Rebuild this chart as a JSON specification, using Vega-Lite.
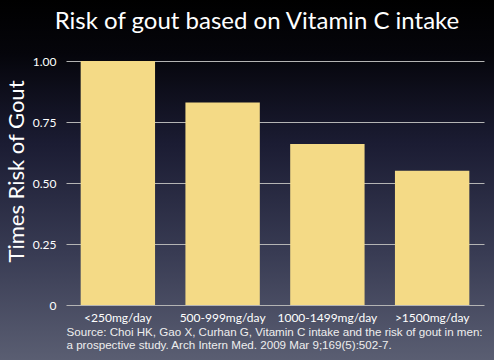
{
  "$schema": "https://vega.github.io/schema/vega-lite/v6.json",
  "width": 494,
  "height": 360,
  "autosize": "none",
  "padding": 0,
  "background": "#000000",
  "view": {
    "stroke": null,
    "fill": {
      "gradient": "linear",
      "x1": 0, "y1": 0, "x2": 0, "y2": 1,
      "stops": [
        {"offset": 0, "color": "#000000"},
        {"offset": 0.15, "color": "#05050b"},
        {"offset": 0.4, "color": "#1b1c33"},
        {"offset": 0.7, "color": "#383b53"},
        {"offset": 1, "color": "#5a5e72"}
      ]
    }
  },
  "title": {
    "text": "Risk of gout based on Vitamin C intake",
    "font": "Lato",
    "fontSize": 24,
    "fontWeight": "normal",
    "color": "#ffffff",
    "anchor": "middle",
    "frame": "group",
    "offset": -34,
    "dx": 10
  },
  "data": {
    "values": [
      {"intake": "<250mg/day", "risk": 1.0},
      {"intake": "500-999mg/day", "risk": 0.83},
      {"intake": "1000-1499mg/day", "risk": 0.66},
      {"intake": ">1500mg/day", "risk": 0.55}
    ]
  },
  "mark": {"type": "bar", "color": "#f4da86"},
  "encoding": {
    "x": {
      "field": "intake",
      "type": "nominal",
      "sort": null,
      "scale": {"range": [66, 484], "paddingInner": 0.29, "paddingOuter": 0.14},
      "axis": {
        "offset": -55,
        "domain": false,
        "ticks": false,
        "labelAngle": 0,
        "labelColor": "#ffffff",
        "labelFont": "Lato",
        "labelFontSize": 12,
        "labelPadding": 7,
        "title": [
          "Source: Choi HK, Gao X, Curhan G, Vitamin C intake and the risk of gout in men:",
          "a prospective study. Arch Intern Med. 2009 Mar 9;169(5):502-7."
        ],
        "titleFont": "Liberation Sans",
        "titleFontSize": 11.6,
        "titleFontWeight": "normal",
        "titleColor": "#eeeeee",
        "titleAnchor": "start",
        "titleAlign": "left",
        "titleLineHeight": 13,
        "titlePadding": 3
      }
    },
    "y": {
      "field": "risk",
      "type": "quantitative",
      "scale": {"domain": [0, 1], "range": [305, 61], "nice": false},
      "axis": {
        "offset": -66,
        "values": [0, 0.25, 0.5, 0.75, 1],
        "labelExpr": "datum.value == 0 ? '0' : format(datum.value, '.2f')",
        "grid": false,
        "domain": false,
        "ticks": true,
        "tickSize": -418,
        "tickColor": "#b4b4b4",
        "tickWidth": 1,
        "labelColor": "#ffffff",
        "labelFont": "Lato",
        "labelFontSize": 12,
        "labelPadding": 428,
        "labelLimit": 0,
        "title": "Times Risk of Gout",
        "titleFont": "Lato",
        "titleFontSize": 22,
        "titleFontWeight": "normal",
        "titleColor": "#ffffff",
        "titlePadding": 4,
        "titleY": 171
      }
    }
  }
}
